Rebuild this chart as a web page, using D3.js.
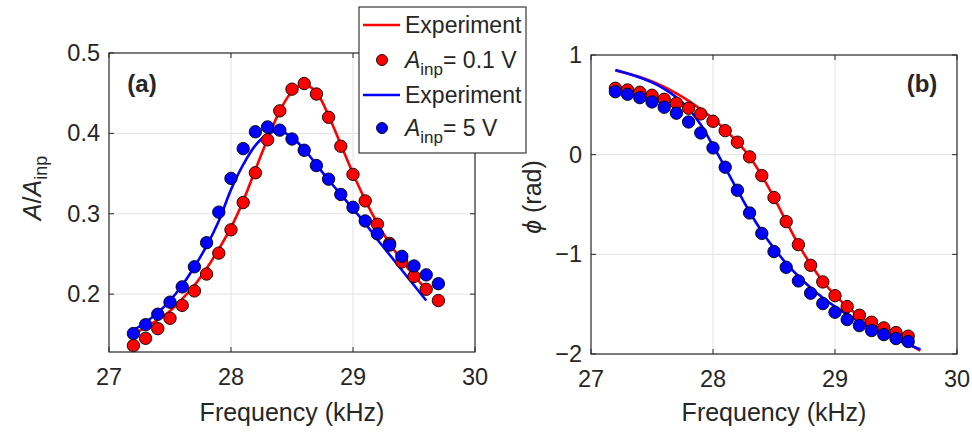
<!DOCTYPE html>
<html><head><meta charset="utf-8">
<script src="https://cdn.jsdelivr.net/npm/d3@7"></script>
<style>
body{margin:0;background:#fff;}
svg{display:block;}
text{font-family:"Liberation Sans",Arial,Helvetica,sans-serif;fill:#262626;}
</style>
</head><body>
<svg id="chart" width="972" height="434"></svg>
<script>
// ---------- data ----------
const freqA = [27.2,27.3,27.4,27.5,27.6,27.7,27.8,27.9,28.0,28.1,28.2,28.3,28.4,28.5,28.6,28.7,28.8,28.9,29.0,29.1,29.2,29.3,29.4,29.5,29.6,29.7];
const ampLow  = [0.136,0.145,0.157,0.170,0.186,0.204,0.225,0.251,0.280,0.314,0.351,0.392,0.428,0.455,0.462,0.449,0.420,0.384,0.349,0.316,0.287,0.263,0.240,0.222,0.206,0.192];
const ampHigh = [0.151,0.162,0.175,0.190,0.209,0.234,0.264,0.302,0.344,0.381,0.402,0.408,0.404,0.393,0.379,0.360,0.343,0.324,0.308,0.291,0.275,0.261,0.247,0.235,0.224,0.213];

const fitFreqA = [27.2,27.3,27.4,27.5,27.6,27.7,27.8,27.9,28.0,28.1,28.2,28.3,28.4,28.5,28.6,28.7,28.8,28.9,29.0,29.1,29.2,29.3,29.4,29.5,29.6];
const ampLowFit  = [0.150,0.159,0.168,0.179,0.194,0.211,0.232,0.256,0.283,0.316,0.355,0.393,0.428,0.452,0.461,0.451,0.422,0.386,0.350,0.317,0.288,0.263,0.242,0.223,0.206];
const ampHighFit = [0.155,0.165,0.177,0.192,0.211,0.234,0.260,0.291,0.330,0.361,0.385,0.399,0.403,0.395,0.380,0.361,0.342,0.324,0.306,0.288,0.268,0.249,0.230,0.211,0.192];

const freqB = [27.2,27.3,27.4,27.5,27.6,27.7,27.8,27.9,28.0,28.1,28.2,28.3,28.4,28.5,28.6,28.7,28.8,28.9,29.0,29.1,29.2,29.3,29.4,29.5,29.6];
const phaseLow  = [0.666,0.649,0.626,0.596,0.556,0.516,0.466,0.409,0.335,0.241,0.125,-0.022,-0.210,-0.430,-0.672,-0.903,-1.110,-1.277,-1.415,-1.524,-1.611,-1.681,-1.738,-1.785,-1.821];
const phaseHigh = [0.632,0.606,0.572,0.529,0.476,0.416,0.328,0.218,0.068,-0.126,-0.357,-0.585,-0.790,-0.972,-1.130,-1.267,-1.390,-1.494,-1.581,-1.655,-1.715,-1.765,-1.805,-1.845,-1.875];

const fitFreqB = [27.2,27.3,27.4,27.5,27.6,27.7,27.8,27.9,28.0,28.1,28.2,28.3,28.4,28.5,28.6,28.7,28.8,28.9,29.0,29.1,29.2,29.3,29.4,29.5,29.6,29.7];
const phaseLowFit  = [0.845,0.815,0.780,0.735,0.680,0.615,0.540,0.455,0.360,0.250,0.125,-0.020,-0.210,-0.430,-0.670,-0.900,-1.100,-1.270,-1.410,-1.525,-1.620,-1.700,-1.770,-1.835,-1.900,-1.965];
const phaseHighFit = [0.850,0.815,0.775,0.725,0.660,0.575,0.460,0.300,0.090,-0.130,-0.355,-0.575,-0.770,-0.940,-1.090,-1.220,-1.335,-1.435,-1.525,-1.605,-1.675,-1.740,-1.800,-1.855,-1.905,-1.955];

const xTicks = [27,28,29,30];
const yTicksA = [0.2,0.3,0.4,0.5];
const yTicksB = [-2,-1,0,1];
const legendLabels = ["Experiment","0.1 V","Experiment","5 V"];

// ---------- drawing ----------
const RED = "#ff0000", BLUE = "#0000ff", INK = "#262626";
const svg = d3.select("#chart");

function panel(cfg){
  const x = d3.scaleLinear().domain([27,30]).range([cfg.left, cfg.right]);
  const y = d3.scaleLinear().domain(cfg.ydom).range([cfg.bottom, cfg.top]);
  const g = svg.append("g");
  // grid
  g.selectAll(".gx").data(xTicks.filter(t=>t>27&&t<30)).enter().append("line")
    .attr("x1",d=>x(d)).attr("x2",d=>x(d)).attr("y1",cfg.top).attr("y2",cfg.bottom)
    .attr("stroke","#e3e3e3").attr("stroke-width",1);
  g.selectAll(".gy").data(cfg.yticks.filter(t=>y(t)>cfg.top+1&&y(t)<cfg.bottom-1)).enter().append("line")
    .attr("x1",cfg.left).attr("x2",cfg.right).attr("y1",d=>y(d)).attr("y2",d=>y(d))
    .attr("stroke","#e3e3e3").attr("stroke-width",1);
  // curves
  const line = d3.line().x(d=>x(d[0])).y(d=>y(d[1])).curve(d3.curveCatmullRom.alpha(0.5));
  cfg.fits.forEach(f=>{
    g.append("path").attr("d", line(d3.zip(f.x,f.y))).attr("fill","none")
      .attr("stroke",f.color).attr("stroke-width",2.6);
  });
  cfg.pts.forEach(p=>{
    g.selectAll(null).data(d3.zip(p.x,p.y)).enter().append("circle")
      .attr("cx",d=>x(d[0])).attr("cy",d=>y(d[1])).attr("r",6.2)
      .attr("fill",p.color).attr("stroke","#000").attr("stroke-width",0.9);
  });
  // box
  g.append("rect").attr("x",cfg.left).attr("y",cfg.top).attr("width",cfg.right-cfg.left)
    .attr("height",cfg.bottom-cfg.top).attr("fill","none").attr("stroke",INK).attr("stroke-width",1.2);
  // ticks
  const tl = 5;
  xTicks.forEach(t=>{
    g.append("line").attr("x1",x(t)).attr("x2",x(t)).attr("y1",cfg.bottom).attr("y2",cfg.bottom-tl).attr("stroke",INK);
    g.append("line").attr("x1",x(t)).attr("x2",x(t)).attr("y1",cfg.top).attr("y2",cfg.top+tl).attr("stroke",INK);
    g.append("text").attr("x",x(t)).attr("y",cfg.bottom+33).attr("text-anchor","middle")
      .attr("font-size",23.5).text(t);
  });
  cfg.yticks.forEach(t=>{
    g.append("line").attr("x1",cfg.left).attr("x2",cfg.left+tl).attr("y1",y(t)).attr("y2",y(t)).attr("stroke",INK);
    g.append("line").attr("x1",cfg.right).attr("x2",cfg.right-tl).attr("y1",y(t)).attr("y2",y(t)).attr("stroke",INK);
    g.append("text").attr("x",cfg.left-9).attr("y",y(t)+8).attr("text-anchor","end")
      .attr("font-size",23.5).text(cfg.fmt(t));
  });
  // x label
  g.append("text").attr("x",(cfg.left+cfg.right)/2).attr("y",421).attr("text-anchor","middle")
    .attr("font-size",25).text("Frequency (kHz)");
  // panel tag
  g.append("text").attr("x",cfg.tagX).attr("y",92).attr("font-size",24).attr("font-weight","bold")
    .attr("text-anchor","middle").text(cfg.tag);
  return {x,y,g};
}

const pa = panel({left:109,right:475,top:53,bottom:352,ydom:[0.128,0.5],yticks:yTicksA,
  fmt:d=>d3.format(".1f")(d),tag:"(a)",tagX:142,
  fits:[{x:fitFreqA,y:ampLowFit,color:RED},{x:fitFreqA,y:ampHighFit,color:BLUE}],
  pts:[{x:freqA,y:ampLow,color:RED},{x:freqA,y:ampHigh,color:BLUE}]});

const pb = panel({left:591,right:957,top:55,bottom:354,ydom:[-2,1],yticks:yTicksB,
  fmt:d=>d<0?"\u2212"+Math.abs(d):String(d),tag:"(b)",tagX:922,
  fits:[{x:fitFreqB,y:phaseLowFit,color:RED},{x:fitFreqB,y:phaseHighFit,color:BLUE}],
  pts:[{x:freqB,y:phaseLow,color:RED},{x:freqB,y:phaseHigh,color:BLUE}]});

// y labels
const yla = svg.append("text").attr("transform","translate(41,188) rotate(-90)")
  .attr("text-anchor","middle").attr("font-size",25);
yla.append("tspan").attr("font-style","italic").text("A");
yla.append("tspan").text("/");
yla.append("tspan").attr("font-style","italic").text("A");
yla.append("tspan").attr("font-size",18).attr("dy",6).text("inp");

const ylb = svg.append("text").attr("transform","translate(541,197) rotate(-90)")
  .attr("text-anchor","middle").attr("font-size",25);
ylb.append("tspan").attr("font-style","italic").text("\u03D5");
ylb.append("tspan").text(" (rad)");

// legend
const lg = svg.append("g");
lg.append("rect").attr("x",359).attr("y",7).attr("width",167).attr("height",146)
  .attr("fill","#fff").attr("stroke",INK).attr("stroke-width",1.1);
const rows = [
  {type:"line",color:RED,label:legendLabels[0],cy:25},
  {type:"dot",color:RED,label:legendLabels[1],cy:60},
  {type:"line",color:BLUE,label:legendLabels[2],cy:95},
  {type:"dot",color:BLUE,label:legendLabels[3],cy:128}
];
rows.forEach(r=>{
  if(r.type==="line"){
    lg.append("line").attr("x1",363).attr("x2",400).attr("y1",r.cy).attr("y2",r.cy)
      .attr("stroke",r.color).attr("stroke-width",2.6);
    lg.append("text").attr("x",405).attr("y",r.cy+8).attr("font-size",23).text(r.label);
  } else {
    lg.append("circle").attr("cx",382).attr("cy",r.cy).attr("r",5.5)
      .attr("fill",r.color).attr("stroke","#000").attr("stroke-width",0.9);
    const t = lg.append("text").attr("x",405).attr("y",r.cy+8).attr("font-size",23);
    t.append("tspan").attr("font-style","italic").text("A");
    t.append("tspan").attr("font-size",17).attr("dy",7).text("inp");
    t.append("tspan").attr("dy",-7).text("= " + r.label);
  }
});
</script>
</body></html>
